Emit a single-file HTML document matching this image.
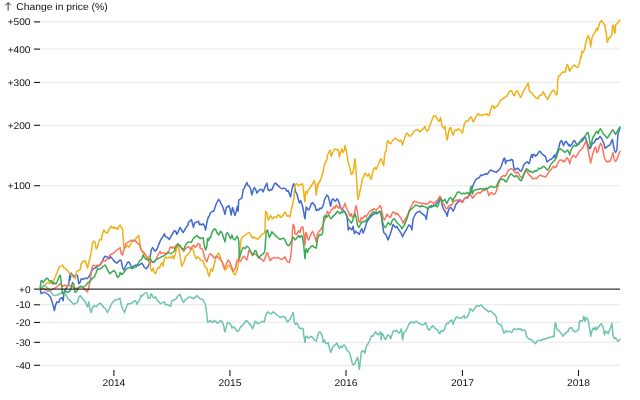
<!DOCTYPE html>
<html><head><meta charset="utf-8"><style>
html,body{margin:0;padding:0;background:#fff;}
svg{display:block;font-family:"Liberation Sans",sans-serif;font-size:10px;}
</style></head><body>
<svg width="640" height="400" viewBox="0 0 640 400">
<g stroke="#000" stroke-opacity="0.1"><line x1="40" x2="620" y1="365.27" y2="365.27"/><line x1="40" x2="620" y1="342.29" y2="342.29"/><line x1="40" x2="620" y1="322.38" y2="322.38"/><line x1="40" x2="620" y1="304.81" y2="304.81"/><line x1="40" x2="620" y1="185.74" y2="185.74"/><line x1="40" x2="620" y1="125.27" y2="125.27"/><line x1="40" x2="620" y1="82.38" y2="82.38"/><line x1="40" x2="620" y1="49.1" y2="49.1"/><line x1="40" x2="620" y1="21.91" y2="21.91"/></g>
<g stroke="#000"><line x1="34" x2="40" y1="365.27" y2="365.27"/><line x1="34" x2="40" y1="342.29" y2="342.29"/><line x1="34" x2="40" y1="322.38" y2="322.38"/><line x1="34" x2="40" y1="304.81" y2="304.81"/><line x1="34" x2="40" y1="289.1" y2="289.1"/><line x1="34" x2="40" y1="185.74" y2="185.74"/><line x1="34" x2="40" y1="125.27" y2="125.27"/><line x1="34" x2="40" y1="82.38" y2="82.38"/><line x1="34" x2="40" y1="49.1" y2="49.1"/><line x1="34" x2="40" y1="21.91" y2="21.91"/><line x1="113.89" x2="113.89" y1="370" y2="376"/><line x1="229.95" x2="229.95" y1="370" y2="376"/><line x1="346.02" x2="346.02" y1="370" y2="376"/><line x1="462.4" x2="462.4" y1="370" y2="376"/><line x1="578.46" x2="578.46" y1="370" y2="376"/></g>
<g fill="#111" text-anchor="end" font-size="10" text-rendering="geometricPrecision" style="filter:grayscale(1)"><text transform="translate(30.5,368.67) scale(1,0.97)" textLength="14.66" lengthAdjust="spacingAndGlyphs">-40</text><text transform="translate(30.5,345.69) scale(1,0.97)" textLength="14.66" lengthAdjust="spacingAndGlyphs">-30</text><text transform="translate(30.5,325.78) scale(1,0.97)" textLength="14.66" lengthAdjust="spacingAndGlyphs">-20</text><text transform="translate(30.5,308.21) scale(1,0.97)" textLength="14.66" lengthAdjust="spacingAndGlyphs">-10</text><text transform="translate(30.5,292.50) scale(1,0.97)" textLength="11.44" lengthAdjust="spacingAndGlyphs">+0</text><text transform="translate(30.5,189.14) scale(1,0.97)" textLength="22.88" lengthAdjust="spacingAndGlyphs">+100</text><text transform="translate(30.5,128.67) scale(1,0.97)" textLength="22.88" lengthAdjust="spacingAndGlyphs">+200</text><text transform="translate(30.5,85.78) scale(1,0.97)" textLength="22.88" lengthAdjust="spacingAndGlyphs">+300</text><text transform="translate(30.5,52.50) scale(1,0.97)" textLength="22.88" lengthAdjust="spacingAndGlyphs">+400</text><text transform="translate(30.5,25.31) scale(1,0.97)" textLength="22.88" lengthAdjust="spacingAndGlyphs">+500</text></g>
<g fill="#111" text-anchor="middle" font-size="10" text-rendering="geometricPrecision" style="filter:grayscale(1)"><text transform="translate(113.89,386.1) scale(1,0.97)" textLength="22.9" lengthAdjust="spacingAndGlyphs">2014</text><text transform="translate(229.95,386.1) scale(1,0.97)" textLength="22.9" lengthAdjust="spacingAndGlyphs">2015</text><text transform="translate(346.02,386.1) scale(1,0.97)" textLength="22.9" lengthAdjust="spacingAndGlyphs">2016</text><text transform="translate(462.4,386.1) scale(1,0.97)" textLength="22.9" lengthAdjust="spacingAndGlyphs">2017</text><text transform="translate(578.46,386.1) scale(1,0.97)" textLength="22.9" lengthAdjust="spacingAndGlyphs">2018</text></g>
<path d="M8.1,10.6V2.6M5.4,5.3L8.1,2.5L10.8,5.3" fill="none" stroke="#333" stroke-width="1"/><text x="16.3" y="10.3" fill="#111" text-rendering="geometricPrecision" style="filter:grayscale(1)" textLength="91.3" lengthAdjust="spacingAndGlyphs">Change in price (%)</text>
<g fill="none" stroke-width="1.5" stroke-linejoin="round" stroke-linecap="round"><path stroke="#4269d0" d="M40,289.1L41.25,293.75L43.12,292.5L45,292.5L46.88,293.75L48.75,295L50.62,297.5L52.5,303.12L53.75,307.5L54.38,310.62L55.62,305L56.88,301.88L58.75,302.5L60,298.75L61.88,297.5L63.12,300.62L63.75,295L65,290L66.88,287.5L68.75,283.75L70,273.75L70,273.75L70,280L71.25,273.12L72.5,275L74.38,276.25L76.25,275L77.5,275.62L78.75,283.75L80,282.5L81.25,278.75L83.12,279.38L85,278.12L86.88,278.75L88.12,277.5L90,275L91.25,271.88L93.12,268.75L95,268.12L96.88,266.88L98.75,265.62L100.62,264.38L102.5,261.25L103.75,258.12L105,256.25L106.88,256.88L108.75,258.75L110.62,256.88L111.88,258.12L113.75,260.62L115,261.88L116.88,263.12L118.75,261.25L120,260L120,260L121.25,260.62L122.5,267.5L123.75,270L125.62,266.25L127.5,262.5L128.75,261.88L130,263.75L131.25,266.25L132.5,267.5L134.38,265.62L136.25,265L138.12,265.62L140,264.38L141.88,263.12L143.12,265L144.38,267.5L146.25,268.75L148.12,266.25L149.38,263.75L150,257.5L151.25,250L152.5,247.5L153.75,249.38L155,251.25L156.88,249.38L158.12,246.25L159.38,243.12L160.62,240L162.5,237.5L164.38,233.75L165.62,236.88L167.5,237.5L169.38,239.38L170.62,236.88L172.5,233.75L174.38,230.62L175.62,231.25L176.88,234.38L178.12,231.88L180,227.5L181.25,229.38L183.12,232.5L185,229.38L186.88,226.25L188.12,225L188.12,222.81L190,220.94L191.56,219.69L192.5,223.75L193.44,227.19L194.69,222.81L196.25,222.19L197.5,221.88L198.44,220.94L199.38,224.69L200,223.75L200.31,224.06L201.88,225L203.12,223.75L204.38,225.62L205.62,230L206.88,222.5L208.12,217.5L209.38,215.62L210.62,212.5L212.5,211.25L213.75,211.25L215,207.5L216.25,203.75L217.5,201.25L218.75,199.38L220,201.25L221.25,204.38L222.5,206.25L223.75,210L225,214.38L226.25,207.5L227.5,206.88L228.75,205.62L230,208.75L231.25,215L232.5,207.5L233.75,211.25L235,215.62L236.25,211.25L237.5,206.25L238.12,211.25L238.75,200L240.62,198.75L241.88,198.12L243.12,190L244.38,188.12L245.62,185L246.88,182.5L248.12,185.62L249.38,186.25L250.62,188.75L251.88,195L253.12,190.62L254.38,187.5L255.62,189.38L256.88,193.12L258.12,191.25L259.38,190L260.62,189.38L261.88,189.38L263.12,191.88L264.38,188.75L265.62,185.62L266.88,183.12L268.12,190L269.38,190.62L270.62,189.38L271.88,190L273.12,186.88L274.38,183.75L275.62,183.12L276.88,184.38L278.12,185.62L279.38,186.88L280,187.5L281.88,188.75L283.75,188.12L285.62,188.75L286.88,191.25L288.12,190.62L289.38,193.75L290.62,196.88L291.88,189.38L293.12,185L293.75,183.75L294.75,187.5L295.62,191.88L296.88,193.75L298.12,198.75L299.38,203.12L300.62,200.62L301.88,203.75L303.12,208.75L304.38,216.25L305,218.75L305.62,212.5L306.25,206.88L307.5,208.75L308.75,210L310,207.5L311.25,203.75L312.5,202.5L313.75,204.38L315,205.62L316.25,210.62L317.5,209.38L318.75,210L320,208.12L321.25,208.75L322.5,206.88L323.75,203.75L324.38,200L325.62,197.5L326.88,195L328.12,196.25L329.38,200.62L330.62,206.25L331.88,200L333.12,198.75L334.38,200.62L335.62,201.25L336.88,198.75L338.12,200L339.38,203.75L340.62,207.5L341.88,210L343.12,210L344.38,211.25L345.62,213.12L346.88,216.25L347.5,221.25L348.12,227.5L348.12,230L349.38,227.5L350.62,228.75L351.88,230L353.12,226.25L354.38,233.75L355.62,231.25L356.88,232.5L358.12,233.12L359.38,234.38L360.62,230.62L361.88,228.75L363.12,233.12L364.38,230L365.62,226.25L366.88,221.88L368.12,220L369.38,218.12L370.62,216.88L371.88,215.62L373.12,214.38L374.38,213.75L375.62,213.12L376.88,213.75L378.12,212.5L379.38,211.25L380.62,212.5L381.25,215L382.5,225L383.75,232.5L385,233.75L386.25,235L387.5,238.75L388.12,240L389.38,236.25L390.62,233.12L391.88,228.75L393.12,224.38L394.38,226.25L395.62,227.5L396.88,226.25L398.12,228.75L399.38,230.62L400.62,232.5L401.88,235L402.5,236.88L403.75,233.75L405,231.88L406.25,230L407.5,227.5L408.75,225L410,225.62L411.25,227.5L411.88,230L413.12,218.75L414.38,216.25L415.62,213.75L416.88,212.5L418.12,211.88L420,211.25L421.25,213.12L422.5,213.75L423.75,215L425,215.62L426.25,219.38L427.5,211.25L428.12,208.75L429.38,206.88L430.62,206.25L431.88,205.62L433.12,206.25L434.38,205.62L435.62,205L436.88,203.12L438.12,201.88L439.38,199.38L440.62,197.5L441.25,201.25L442.5,206.25L443.75,209.38L445,211.25L446.25,213.12L447.25,216.25L448.12,211.25L449.38,208.12L450.62,207.5L451.88,208.75L453.12,211.25L454.38,208.75L455.62,205L456.88,203.12L458.12,201.88L459.38,200.62L460.62,201.25L461.88,201.88L463.12,200.62L464.38,198.75L465.62,197.5L466.88,198.12L468.12,196.88L469.38,195L470.62,193.12L471.88,188.75L473.12,185L474.38,182.5L475.62,180L476.88,178.75L478.12,178.12L479.38,177.5L480.62,175L481.88,175.62L483.12,175L484.38,174.38L485.62,173.75L486.88,174.38L488.12,173.12L489.38,171.25L490.62,170L491.88,170.62L493.12,171.25L495,171.88L496.25,172.5L497.5,171.25L498.75,170L500,168.75L501.25,166.25L502.5,162.5L503.75,158.75L504.75,158.12L505.62,163.75L506.25,161.25L507.5,160.62L508.75,160.62L510,160.62L511.25,159.38L512.5,160L513.12,162.5L513.75,167.5L515,170L516.25,168.75L517.5,168.12L518.75,169.38L520,170.62L521.25,171.25L522.5,168.75L523.75,165L525,163.12L526.25,162.5L527.5,161.88L528.75,163.75L530,161.25L530.62,157.5L531.88,154.38L532.5,157.5L533.12,155L534.38,154.38L535.62,156.25L536.88,155L538.12,153.12L539.38,151.25L540.62,151.88L541.88,153.75L543.12,155L544.38,155.62L545.62,156.88L546.88,161.88L548.12,161.25L549.38,160L550.62,159.38L551.88,158.75L553.12,157.5L554.38,155L555,157.5L556.25,154.38L557.5,151.25L558.75,147.5L560,142.5L561.25,140.62L561.25,140.62L562.5,141.88L562.5,143.12L563.75,145.62L563.75,145L565,142.5L565,141.88L566.25,141.88L566.25,141.25L567.5,143.75L567.5,143.12L568.75,145.62L568.75,145L570,145L570,146.25L571.25,145L572.5,143.12L573.75,140.62L575,141.25L576.25,143.75L577.5,145L578.75,144.38L580,141.88L581.25,140L582.5,138.75L583.75,137.5L585,136.88L586.25,140L587.5,143.75L588.75,146.88L590,148.75L591.25,146.25L592.5,143.12L593.75,143.12L595,141.25L596.25,138.75L597.5,139.38L598.75,138.12L600,136.25L601.25,138.12L602.5,140.62L603.75,143.12L605,148.12L606.25,147.5L607.5,146.25L608.75,145.62L610,145L611.25,141.88L612.5,139.38L613.12,143.75L614.38,150L615.62,152.5L616.88,150L617.5,140L618.12,133.75L619,131.25L620,128.12"/><path stroke="#efb118" d="M40,289.1L43,287L45.5,284.5L47.5,282.5L50,283.5L52.5,282.5L55,277.5L57.5,271.25L59.38,266.88L60.62,266.25L62.5,265L63.75,267.5L65,268.12L66.25,269.38L68.12,271.25L70,273.75L71.88,275.62L73.75,277.5L75.25,278.75L76.5,271.88L78.12,270.62L80,270L81.25,263.75L83.12,261.25L85,260.62L86.25,263.75L87.5,268.12L88.75,262.5L90,257.5L90.62,255.62L91.5,250L92.5,245L92.5,242.5L93.75,241.25L95,241.88L96.25,248.75L97.5,246.88L98.75,241.88L100,239.38L101.25,240L102.5,233.75L103.75,230L105,231.88L106.88,233.12L108.12,231.88L110,227.5L111.25,226.25L112.5,228.12L113.75,226.88L115,228.75L116.25,227.5L117.5,229.38L118.75,226.88L119.75,225.25L120,225L121.25,227.5L122.5,228.75L123.12,236.25L123.75,246.25L125,248.12L126.25,246.88L127.5,245L128.75,247.25L130,245.62L131.25,242.5L132.5,240.62L133.75,240L135.62,238.75L137.5,236.88L138.75,235.62L140,243.75L141.25,250L142.5,251.88L143.75,253.75L145,255L146.25,256.88L147.5,258.75L148.75,256.25L150,262.5L150.62,268.75L151.88,271.25L153.12,268.12L154.38,272.5L155.62,273.75L156.88,270L158.12,267.5L159.38,268.12L160.62,265L161.88,262.5L163.12,266.25L164.38,258.75L165.62,256.88L167.5,258.12L169.38,256.88L171.25,258.12L172.5,255.62L173.75,258.75L175,255L176.88,247.5L178.12,245L179.38,251.88L180.62,260L181.88,266.25L183.12,263.75L184.38,261.25L185.62,256.25L187.5,255L189.38,252.5L190.62,250L192.5,248.12L193.75,251.88L195,256.25L196.25,258.75L197.5,256.88L198.75,258.12L200,258.75L200,260L201.88,260.62L203.12,261.25L204.38,265L205.62,267.5L206.88,268.12L208.12,273.75L209,276.25L210,272.5L211.25,268.75L212.5,271.25L213.75,266.25L215,261.25L216.25,256.88L217.5,254.38L218.75,253.12L220,256.25L221.25,260L223.12,264.38L225,270L226.25,269.38L227.5,266.25L228.75,265L230,266.88L231.25,268.75L232.5,270.62L233.75,273.75L235,275L236.25,272.5L237.5,268.75L238.12,265L241.25,238.75L243.12,236.25L245,235.62L246.88,233.75L248.75,232.5L250,233.12L251.25,236.25L252.5,238.12L253.75,236.88L255.62,238.12L257.5,239.38L259.38,237.5L261.25,235L263.12,233.75L264.38,233.12L265,230L265.62,211.25L266.88,212.5L268.12,220L269.38,218.12L270.62,215.62L272.5,218.75L274.38,216.88L276.25,217.5L278.12,215L280,215.62L280,217.5L281.88,216.88L283.12,215L285,211.88L286.25,214.38L287.5,216.25L288.75,215.62L290,216.88L291.25,210L292.5,205L293.75,198.75L294.38,191.25L295,185L296.25,183.75L297.5,184.38L298.75,185.62L300,185L301.25,184.38L302.5,183.75L303.12,187.5L304.38,198.75L305,201.88L305.62,191.25L306.88,193.75L308.12,190L309.38,188.75L310.62,186.88L311.88,185L313.12,182.5L314.38,180.62L315.25,185L316.25,195L317.5,183.75L317.5,187.5L318.75,182.5L318.75,183.75L320,180.62L320,181.25L321.25,177.5L322.5,173.75L323.75,168.75L324.38,165L325.62,161.88L326.88,160L327.5,155L328.75,152.5L330,150L331.25,156.25L332.5,153.12L333.75,150L335,148.75L336.88,150L338.12,149.38L339.38,156.88L340.62,152.5L341.88,148.75L343.12,152.5L344.38,150L345,145.62L346.25,150L347.5,158.75L348.75,164.38L350,168.75L351.25,174.38L352.5,173.75L353.75,168.75L354.75,158.75L355.62,165L356.5,177.5L357.5,195L358.12,199.38L359.38,193.75L360,190L360,191.25L361.25,185L362.5,178.75L363.75,176.88L365,173.12L366.25,174.38L367.5,176.25L368.75,173.75L370,176.88L371.25,179.38L372.5,172.5L373.75,169.38L375,167.5L376.25,169.38L377.5,166.25L378.75,163.75L380,160L381.25,158.75L382.5,162.5L383.75,165.62L384.38,157.5L385,152.5L386.25,150.62L386.88,142.5L388.12,140.62L389.38,143.12L390.62,143.75L391.88,141.88L393.12,140L394.38,138.75L395.62,138.12L396.88,139.38L398.12,140L399.38,141.25L400.62,140L401.88,142.5L402.5,145L403.75,140.62L405,136.88L406.25,133.75L407.5,133.12L408.75,135.62L410,136.25L411.25,135L412.5,134.38L413.75,131.25L415,130.62L416.25,130L417.5,129.38L418.75,130.62L420,131.88L421.25,130.62L422.5,129.38L423.75,128.12L425,126.25L425.62,128.75L426.88,131.25L428.12,130L429.38,126.88L430.62,123.75L431.88,120L433.12,116.88L434.38,115.62L435.62,116.25L436.88,118.12L438.12,120.62L439.38,121.25L440.62,117.5L441.25,121.25L441.88,126.25L443.12,127.5L444.38,128.75L445,126.25L445.62,131.25L446.25,135L447.25,140L448.12,135L449.38,128.75L450.62,127.5L451.88,131.88L453.12,135L454.38,131.25L455.62,130L456.88,130.62L458.12,128.75L460,130L460.62,130.62L461.25,131.25L462.5,133.12L463.75,126.88L464.38,123.75L465.62,121.88L466.88,120.62L468.12,121.25L469.38,118.75L470.62,116.88L471.88,118.12L473.12,121.88L474.38,120L475.62,117.5L476.88,115L478.12,113.75L479.38,115L480.62,115.62L481.88,115L483.12,115L484.38,114.38L485.62,114.38L486.88,113.75L488.12,115.62L489.38,115L490.62,110L491.88,106.25L493.12,105.62L494.38,108.75L495.62,106.88L496.88,106.25L498.12,105L499.38,102.5L500.62,100L501.88,99.38L503.12,98.75L504.38,97.5L505.62,96.88L506.88,96.25L508.12,93.75L509.38,91.88L510.62,90.62L511.88,91.25L513.12,94.38L514.38,95.62L515.62,92.5L516.88,90.62L518.12,92.5L519.38,95L520.62,97.5L521.88,95L523.12,91.88L524.38,89.38L525.62,87.5L526.88,85.62L528.12,83.12L528.75,86.25L529.38,91.25L530.62,92.5L531.88,92.5L533.12,95L534.38,96.25L535.62,97.5L536.88,98.12L538.12,98.75L539.38,95.62L540.62,95L541.88,95L543.12,91.88L544.38,93.75L545.62,96.25L546.88,98.12L547.75,99.38L548.75,96.88L550,95L551.25,92.5L552.5,90.62L553.75,90L555,92.5L556.25,95L557.25,93.75L557.75,80L558.5,76.25L559.75,75.62L561,73.75L562.25,72.5L563.75,71.88L565,72.5L566.25,67.5L567.25,64.38L568.12,66.25L568.75,69.38L569.75,71.25L570.62,68.75L571.88,67.5L573.12,66.25L574.38,65L575.62,66.25L576.88,67.5L578.12,66.88L579.38,63.75L580,61.25L580.62,56.25L581.25,57.5L581.88,51.25L583.12,52.5L584.38,50L585.62,43.75L586.88,38.75L588.12,35.62L589.38,38.75L590,41.25L590.62,46.88L591.25,42.5L592.25,36.88L593.12,35L594.38,33.12L595.62,30.62L596.88,28.12L597.5,30.62L598.75,26.25L600,22.5L601.25,20.62L602.5,21.88L603.75,23.75L604.75,25L605.62,30L606.5,35L607.25,42.5L608.12,40L609.38,37.5L610.62,36.88L611.88,34.38L612.5,26.25L613.5,25L614.38,32.5L615,33.12L615.62,25L616.88,23.75L618.12,22.5L619.38,20.62L620,20"/><path stroke="#ff725c" d="M40,289.1L42.5,288.12L45,289.38L47.5,291.25L50,290.62L52.5,289.38L55,288.12L57.5,286.25L60,283.75L62.5,286.25L65,285L66.88,286.88L68.75,285L71.25,286.25L73.75,287.5L76.25,288.75L78.75,287.5L81.25,286.25L83.75,288.12L86.25,290.62L87.5,291.88L88.75,287.5L90,281.25L91.25,272.5L92.5,266.25L93.75,265L95.62,266.25L97.5,265L99.38,265.62L101.25,262.5L103.12,260.62L105,261.25L107.5,258.75L110,255L112.5,253.75L115,251.88L116.88,250L118.75,248.75L120,248.12L120,247.5L121.25,253.75L122.5,255L123.75,250L125.62,243.75L127.5,242.5L129.38,241.25L131.25,240L133.12,241.25L135,240.62L136.25,241.88L137.5,243.12L138.75,243.75L140,246.25L141.25,250L143.12,251.88L145,253.75L146.88,257.5L148.12,258.75L150,263.75L151.25,261.25L153.12,262.5L155,261.25L156.88,257.5L158.75,253.75L160,251.25L161.25,253.75L163.12,252.5L165,253.75L166.88,252.5L168.75,251.25L170,247.5L171.25,246.88L172.5,248.12L173.75,246.88L175,248.75L176.25,246.88L178.12,245L180,246.25L181.88,248.75L183.75,251.25L185,249.38L186.88,247.5L188.75,246.88L190.62,249.38L191.88,246.88L193.75,245L195,247.5L196.88,245.62L198.12,243.75L200,244.38L200,248.12L201.88,248.75L203.12,251.25L204.38,256.88L205.62,260L206.88,261.88L208.12,257.5L210,253.75L211.25,254.38L212.5,255.62L213.75,257.5L215,258.12L216.25,256.25L217.5,256.88L219.38,258.12L220.62,260L222.5,262.5L224.38,268.75L225.62,266.25L226.88,262.5L228.12,260L229.38,261.25L230.62,264.38L231.88,267.5L233.12,271.25L234.38,270L235.62,267.5L236.88,261.25L238.12,259.38L239.38,261.25L240.62,261.25L241.88,258.75L243.12,256.88L244.38,256.25L245.62,258.75L246.88,260L248.12,254.38L248.75,250.62L250,251.88L252.5,253.75L255,253.75L257.5,256.25L260,258.12L261.88,259.38L263.75,261.25L265,258.75L266.25,253.75L267.5,252.5L268.75,256.88L270,260.62L271.25,259.38L272.5,258.12L274.38,257.5L276.25,258.12L278.12,257.5L280,258.75L280,258.75L281.88,259.38L283.75,258.12L285,256.88L286.25,260L287.5,261.88L289.38,262.5L290.62,257.5L291.88,245L292.5,230L293.12,224.38L294.38,226.88L295,233.75L296.25,234.38L297.5,233.12L298.75,230.62L300,232.5L301.25,227.5L302.5,226.88L303.12,228.12L303.75,233.75L305,245L305.62,233.75L306.25,232.5L307.5,238.12L308.75,240L310,236.25L311.25,233.75L312.5,231.25L313.75,233.75L315,237.5L316.25,241.88L317.5,233.75L318.75,231.25L320,230.62L321.25,228.75L322.5,226.25L327.5,211.25L328.75,213.75L330,212.5L331.25,210L332.5,209.38L333.75,206.88L335,208.12L336.25,205L337.5,206.88L338.75,208.12L340,206.88L341.25,208.12L342.5,208.75L343.75,206.88L345,203.12L346.25,207.5L347.5,210L348.75,212.5L350,216.25L351.25,213.75L352.5,217.5L353.75,216.25L355,210L356.25,205.62L357.5,212.5L358.75,221.25L360,222.5L361.25,217.5L362.5,218.75L363.75,217.5L365,215.62L366.25,216.88L367.5,215L368.75,212.5L370,211.25L371.25,210L372.5,210.62L373.75,208.75L375,209.38L376.25,210L377.5,208.75L378.75,207.5L380,205.62L381.25,207.5L381.88,212.5L383.12,217.5L384.38,220L385.62,217.5L386.88,214.38L388.12,215.62L389.38,216.88L390.62,217.5L391.88,213.75L393.12,211.88L394.38,212.5L395.62,214.38L396.88,213.12L398.12,214.38L399.38,216.25L400.62,217.5L401.88,220L403.12,223.12L404.38,220.62L405.62,218.75L406.88,216.25L408.12,213.75L409.38,210L410.62,207.5L411.88,205L413.12,202.5L414.38,201.25L416.25,201.88L418.12,202.5L420,203.12L421.25,203.12L422.5,203.75L423.75,203.12L425,203.75L426.25,204.38L427.5,203.75L428.75,203.12L430,201.25L431.25,201.88L432.5,202.5L433.75,203.75L435,202.5L436.25,201.25L437.5,200L438.75,198.12L440,196.25L441.25,198.75L442.5,203.12L443.75,204.38L445,206.25L446.25,208.75L447.5,208.12L448.75,206.25L450,205L451.25,205.62L452.5,203.75L453.75,201.88L455,200.62L456.25,200L457.5,200.62L458.75,200L460,199.38L461.25,201.88L462.5,202.5L463.75,200L465,198.12L466.25,197.5L467.5,196.88L468.75,195.62L470,195L471.25,195.62L472.5,198.12L473.75,196.88L475,195L476.25,193.75L477.5,193.12L478.75,192.5L480,193.12L481.25,191.88L482.5,190.62L483.75,190.62L485,190L486.25,188.75L487.5,190.62L488.75,195.62L490,193.75L491.25,192.5L492.5,193.75L493.75,194.38L495,193.75L496.25,191.25L497.5,187.5L498.75,183.12L500,180L501.25,176.88L502.5,176.25L503.75,175.62L505,176.25L506.25,175L507.5,171.88L508.75,170L510,169.38L511.25,168.75L512.5,169.38L513.75,170.62L515,172.5L516.25,173.12L517.5,171.88L518.75,173.75L520,176.25L521.25,177.5L522.5,176.88L523.75,173.75L525,171.25L526.25,170L527.5,172.5L528.75,174.38L530,175.62L531.25,176.88L532.5,178.75L533.75,178.75L535,178.12L536.25,178.75L537.5,177.5L538.75,176.25L540,175L541.25,175.62L542.5,176.25L543.75,176.25L545,176.88L546.25,176.25L547.5,174.38L548.75,171.88L550,170.62L551.25,169.38L552.5,167.5L553.75,166.25L555,167.5L556.25,166.88L557.5,163.75L558.75,161.25L560,160L561.25,160L562.5,160.62L563.75,161.88L565,160.62L566.25,158.75L567.5,157.5L568.75,160.62L569.75,163.75L570.62,160L571.88,157.5L573.12,155L574.38,156.25L575.62,157.5L576.88,155.62L578.12,153.75L579.38,151.25L580.62,150L581.88,148.75L583.12,146.88L584.38,144.38L585.62,141.88L586.88,143.75L588.12,150L589.38,156.25L590.62,163.12L591.88,157.5L593.12,152.5L594.38,148.75L595.62,146.88L596.88,152.5L598.12,151.25L599.38,146.25L600.62,143.12L601.88,145.62L603.12,151.25L604.38,157.5L605.62,160L606.88,161.88L608.12,161.25L609.38,161.88L610.62,160L611.88,156.25L613.12,152.5L614.38,160L615.62,161.25L616.88,159.38L618.12,156.25L619.38,152.5L620,151.25"/><path stroke="#6cc5b0" d="M40,289.1L41.88,286.88L43.75,285L46.25,286.88L48.75,289.38L51.25,292.5L53.12,295L55,295.62L57.5,295L60,293.75L62.5,292.5L65,293.75L66.88,296.25L68.12,298.75L70,300.62L71.88,302.5L73.75,304.38L75.62,303.12L77.5,302.5L78.75,297.5L80,295.62L81.88,297.5L83.75,300L85.62,302.5L87.5,306.88L88.75,301.88L90,310L91.25,312.5L92.5,306.88L94.38,305.62L96.25,306.88L98.12,304.38L100.62,303.12L101.88,305L103.75,307.5L105.62,308.75L107.5,312.5L109.38,308.75L111.25,304.38L113.12,301.88L115,300L116.88,300L118.75,298.75L120,298.12L120,298.75L121.25,305L122.5,308.75L124.38,312.5L125.62,309.38L126.88,305.62L128.12,303.75L130,303.75L131.88,303.12L133.75,301.25L135.62,300.62L136.88,304.38L138.12,301.88L140,299.38L140.62,295.62L141.88,296.25L143.12,295L144.38,293.75L146.25,292.5L147.5,294.38L148.12,298.12L150,298.12L151.25,293.75L152.5,296.25L153.75,298.12L155.62,296.88L156.88,300L158.75,301.88L160.62,303.75L162.5,302.5L164.38,301.88L165.62,305L167.5,304.38L169.38,305.62L170.62,306.25L171.88,300.62L173.75,300L175.62,299.38L176.88,297.5L178.12,295.62L180,294.38L181.25,297.5L182.5,300.62L183.75,302.5L185,300L187.5,298.12L189.38,296.88L191.25,297.5L193.75,298.75L195.62,296.88L196.88,295.62L198.75,297.5L200,298.75L200,298.75L201.88,299.38L203.12,300L204.38,302.5L205.62,305L206.88,315L207.5,321.88L208.75,321.88L210,320.62L211.25,321.25L212.5,322.5L214.38,320.62L215.62,321.25L216.88,323.12L218.75,322.5L220.62,320.62L222.5,322.5L223.75,325.62L224.38,330L225,331.88L226.25,326.88L227.5,322.5L229.38,323.12L230.62,324.38L231.88,328.12L233.12,326.88L235,328.12L236.25,330L237.5,331.25L238.75,330.62L240,328.12L241.25,326.25L242.5,325.62L243.75,323.75L245,321.88L246.25,320.62L247.5,321.25L248.75,323.12L250,324.38L251.25,325.62L252.5,328.75L253.75,326.25L255,321.25L256.25,321.88L257.5,323.75L258.75,323.12L260.62,322.5L262.5,321.25L264.38,321.88L265.62,315.62L267.5,311.88L269.38,313.12L271.25,313.75L273.12,311.88L275,313.12L276.88,315L278.75,316.25L280,317.5L281.25,317.5L282.5,316.25L283.75,316.88L285,316.88L286.25,320L287.5,321.88L288.75,320.62L290,319.38L291.25,316.25L292.5,314.38L293.12,312.5L293.75,316.25L294.38,322.5L295.62,324.38L296.88,323.12L298.12,325L299.38,328.12L300.62,328.75L301.88,328.12L303.12,328.75L303.75,335L305,342.5L305.62,336.88L306.88,336.25L308.12,338.12L309.38,337.5L310.62,336.25L311.88,336.88L313.12,338.12L314.38,340L316.25,341.25L317.5,336.25L318.75,332.5L320,331.88L321.25,333.75L322.5,336.88L323.12,342.5L324.38,340L325.62,343.12L326.88,343.75L328.12,342.5L329.38,347.5L330.62,352.5L331.88,349.38L333.12,346.25L334.38,345.62L335.62,344.38L336.88,343.12L338.12,345.62L339.38,348.75L340.62,346.25L341.88,347.5L343.12,345.62L344.38,345L345.62,346.88L346.88,350L348.12,351.25L349.38,352.5L350.62,356.25L352.5,364.38L353.75,365L355,363.12L356.25,360L357.5,357.5L358.12,360L358.75,365.62L359.38,369.38L360,363.75L361.25,352.5L362.5,350.62L363.75,351.25L365,353.12L365.62,348.75L366.88,345.62L368.12,343.75L369.38,341.25L370.62,337.5L371.88,335.62L373.12,336.25L374.38,333.75L375.62,331.88L376.88,333.75L378.12,335L379.38,333.12L380.62,331.88L381.25,340L381.88,333.75L383.12,334.38L384.38,338.12L385.62,339.38L386.88,336.25L388.12,335L389.38,335.62L390.62,338.75L391.88,335L393.12,331.25L394.38,330.62L395.62,331.25L396.88,330L398.12,332.5L399.38,333.12L400.62,330.62L401.25,328.75L401.88,332.5L402.5,340L403.12,337.5L403.75,332.5L405,331.88L406.25,330L407.5,327.5L408.75,324.38L410,323.12L411.25,321.88L412.5,322.5L413.75,323.12L415,321.88L416.25,321.25L417.5,322.5L418.75,323.12L420,323.75L421.25,324.38L422.5,325L423.75,324.38L425,323.12L425.62,322.5L426.88,326.25L428.12,329.38L429.38,330L430.62,328.12L431.88,326.88L432.5,325.62L433.75,326.88L435,328.12L436.25,329.38L437.5,330L438.75,332.5L439.75,333.75L440.62,331.88L441.88,330.62L443.12,331.25L444.38,330L445.62,325L446.88,323.12L448.12,323.75L449.38,321.88L450.62,320.62L451.88,320L453.12,324.38L454.38,320.62L455.62,318.12L456.88,316.88L458.12,317.5L459.38,318.12L460.62,318.12L461.88,318.12L463.12,316.25L464.38,315.62L465,318.12L466.25,317.5L467.5,316.88L468.75,314.38L470,308.75L471.25,309.38L472.5,311.25L473.75,310L475,308.12L476.25,306.25L477.5,305.62L478.75,306.25L480,305.62L481.25,305L482.5,306.25L483.75,308.12L485,308.75L486.25,310L487.5,310.62L488.75,311.88L490,311.25L491.25,311.25L492.5,312.5L493.75,313.75L495,315L496.25,316.88L496.88,321.25L497.5,323.12L498.75,323.75L500,324.38L501.25,325L502.5,328.75L503.75,333.12L505,332.5L505.62,330.62L506.88,331.88L508.75,331.25L510.62,331.88L511.88,332.5L513.12,330L514.38,328.75L515.62,329.38L516.88,329.38L518.12,328.75L519.38,329.38L520.62,328.75L521.88,330.62L523.12,330L524.38,330L525.62,331.25L526.25,335.62L527.5,337.5L528.75,338.75L530,339.38L531.25,339.38L532.5,341.25L533.75,341.88L535,343.12L535.62,343.75L536.88,341.25L538.12,340.62L539.38,340.62L540.62,340L541.88,340.62L543.12,338.75L544.38,339.38L545.62,338.75L546.88,338.12L548.12,338.12L549.38,337.5L550.62,336.88L551.88,336.88L553.12,336.25L554,336.88L554.62,327.5L555.25,322.5L556,324.38L556.88,329.38L558.12,330L559.38,331.25L560.62,332.5L561.88,334.38L563.12,336.25L564.38,334.38L565.62,333.12L566.88,331.88L568.12,331.25L569.38,328.12L570.62,328.12L571.88,327.5L572.5,330L573.75,330.62L575,331.88L576.25,331.25L577.5,330.62L578.75,329.38L579.38,321.88L580,321.25L580.62,320.62L581.88,321.25L583.12,320L583.75,316.25L584.38,318.75L585,321.25L585.62,319.38L586.25,317.5L587.5,318.75L588.75,322.5L590,331.25L590.62,336.25L591.88,331.25L593.12,328.12L594.38,329.38L595.62,326.88L596.25,330L597.5,328.12L598.75,326.88L600,325L601.25,323.75L602.5,325.62L603.75,330L604.38,335L605.62,331.25L606.88,331.88L608.12,333.75L609.38,330.62L610.62,328.12L611.88,323.12L612.5,328.75L613.12,336.25L614.38,338.75L615.62,337.5L616.88,340L618.12,341.25L619.38,340L620,339.38"/><path stroke="#3ca951" d="M40,289.1L41,281L42,280.5L43,282.5L44,281.5L45,280L46,278.75L47,278.25L48,278.75L49,280.75L50,281.5L51,280.5L52,282L53,284L54,282.5L55,283.5L56,284L57,282L58,279.5L59,277L60,275L60.5,276L61,280L61.5,285L62,288.5L62.5,293.75L65,291.25L68.12,292.5L70.62,290L72.5,282.5L73.75,283.75L75,292.5L76.88,291.25L78.75,287.5L80.62,286.25L82.5,287.5L84.38,286.25L86.25,285L88.12,282.5L90,281.25L91.25,279.38L92.5,278.12L94.38,276.88L96.25,272.5L97.5,268.75L99.38,269.38L101.25,268.12L103.12,266.25L105,265L106.88,268.12L108.12,271.25L110,273.75L111.88,271.88L113.75,270.62L115.62,272.5L116.88,276.25L118.12,277.5L120,274.38L120,272.5L121.88,274.38L123.75,272.5L125.62,270L127.5,268.12L130,267.5L132.5,268.75L134.38,267.5L136.25,266.88L138.12,263.75L139.38,261.25L140.62,260L141.88,258.75L143.12,255L144.38,257.5L146.25,259.38L148.12,260L150,258.75L151.88,261.25L153.75,262.5L155.62,260L157.5,258.75L159.38,258.12L161.25,256.88L163.12,256.25L165,255L166.88,253.75L168.75,252.5L170.62,253.75L172.5,252.5L174.38,251.25L176.25,245L178.12,243.75L180,245.62L181.88,248.75L183.75,249.38L185.62,245L187.5,242.5L189.38,241.88L191.25,242.5L193.12,238.75L195,236.88L196.88,235.62L198.75,237.5L200,237.5L200,238.75L201.88,238.12L203.12,237.5L204.38,246.25L205.62,250L206.88,246.25L207.5,238.75L208.75,240.62L209.38,237.5L210.62,237.5L211.25,235L212.5,231.25L214.38,228.75L215.62,229.38L216.88,232.5L218.75,235L220.62,231.25L221.88,232.5L223.12,236.25L225,241.88L226.25,233.75L227.5,232.5L229.38,236.25L230.62,238.75L231.88,235L233.12,238.75L235,240L236.88,236.25L238.12,238.12L238.75,241.25L239.38,258.75L240,256.25L241.25,251.25L243.12,247.5L245,248.75L246.88,246.25L248.75,247.5L250,250L251.25,252.5L252.5,255.62L253.75,253.75L255,250.62L256.25,251.25L257.5,255L258.75,258.12L260.62,255.62L262.5,254.38L264.38,252.5L265,248.75L265.62,240L266.25,231.25L267.5,230L269.38,237.5L270.62,235L271.88,231.88L273.75,233.75L275.62,235.62L277.5,237.5L280,239.38L280,239.38L281.88,238.75L283.75,238.12L285,240L286.25,243.12L287.5,245L288.75,245.62L290,244.38L291.25,241.88L292.5,238.12L293.75,237.5L295,240L296.25,238.75L297.5,236.88L298.75,235.62L300,237.5L301.25,235.62L302.5,236.88L303.75,245L304.38,252.5L305,258.75L305.62,251.25L306.25,248.75L307.5,252.5L308.75,248.75L310,248.12L311.25,246.25L312.5,245.62L313.75,246.88L315,247.5L316.25,248.12L317.5,239.38L318.75,235.62L320,234.38L321.25,235L322.5,233.75L323.75,217.5L325,215.62L326.25,217.5L327.5,216.25L328.75,215L330,217.5L331.25,218.75L332.5,216.88L333.75,215.62L335,214.38L336.25,213.12L337.5,211.25L338.75,212.5L340,213.75L341.25,211.88L342.5,212.5L343.75,211.25L345,212.5L346.25,215L347.5,217.5L348.75,220L350,221.25L351.25,223.12L352.5,221.25L353.75,217.5L355,213.75L356.25,217.5L357.5,225L358.75,227.5L361.25,223.12L362.5,221.88L363.75,221.25L365,221.88L366.25,220L367.5,218.75L368.75,217.5L370,215.62L371.25,213.75L372.5,212.5L373.75,211.88L375,212.5L376.25,211.88L377.5,213.12L378.75,212.5L380,211.25L381.25,213.75L381.88,218.75L383.12,223.75L384.38,226.88L385.62,227.5L386.88,225L388.12,222.5L389.38,223.75L390.62,225L391.88,221.25L393.12,219.38L394.38,218.75L395.62,220.62L396.88,222.5L398.12,223.75L399.38,225L400.62,226.25L401.88,228.75L403.12,226.88L404.38,225L405.62,221.88L406.88,218.75L408.12,215L409.38,211.25L410.62,209.38L411.88,208.75L413.12,207.5L414.38,206.25L415.62,205L417.5,205.62L420,206.88L421.25,205.62L422.5,206.25L423.75,206.25L425,206.88L426.25,207.5L427.5,208.75L428.75,206.88L430,206.25L431.25,207.5L432.5,206.25L433.75,205L435,205.62L436.25,206.25L437.5,206.88L438.75,203.75L440,198.75L441.25,199.38L442.5,201.25L443.75,200.62L445,199.38L446.25,202.5L446.88,203.75L448.12,200.62L449.38,198.12L450.62,197.5L451.88,198.75L452.5,201.25L453.75,198.75L455,196.88L456.25,194.38L457.5,192.5L458.75,191.88L460,192.5L461.25,193.75L462.5,193.75L463.75,193.12L465,193.75L466.25,193.12L467.5,192.5L468.75,194.38L470,192.5L470.62,187.5L471.25,186.25L471.88,191.25L472.5,193.75L473.75,190.62L475,190L476.25,189.38L477.5,189.38L478.75,189.38L480,188.75L481.25,188.75L482.5,189.38L483.75,188.75L485,189.38L486.25,188.12L487.5,188.75L488.75,187.5L490,186.88L491.25,186.25L492.5,186.88L493.75,187.5L495,186.88L496.25,186.88L497.5,183.75L498.75,181.25L500,179.38L501.25,178.75L502.5,179.38L503.75,179.38L505,181.25L506.25,181.88L507.5,179.38L508.75,176.88L510,175L511.25,173.75L512.5,175L513.75,176.25L515,176.88L516.25,175.62L517.5,176.25L518.75,178.12L520,180L521.25,180.62L522.5,178.12L523.75,175L525,171.88L526.25,168.75L527.5,169.38L528.75,170.62L530,171.88L531.25,171.25L532.5,172.5L533.75,171.88L535,170.62L536.25,171.25L537.5,170L538.75,168.12L540,168.75L541.25,168.12L542.5,166.88L543.75,166.25L545,167.5L546.25,168.75L547.5,170L548.75,168.75L550,166.25L551.25,163.75L552.5,162.5L553.75,161.25L555,160L556.25,158.12L557.5,153.75L558.75,150L559.38,149.38L560,148.75L561.25,149.38L562.5,150.62L563.75,151.25L565,152.5L566.25,151.25L567.5,150L568.75,151.88L569.75,155L570.62,151.25L571.88,148.12L573.12,146.25L574.38,145L575.62,146.25L576.88,145.62L578.12,143.75L579.38,142.5L580.62,141.88L581.88,141.25L583.12,140L584.38,137.5L585.62,135L586.88,133.12L588.12,132.5L589.38,138.75L590.62,147.5L591.88,141.25L593.12,136.88L594.38,135.62L595.62,132.5L596.88,131.25L598.12,133.75L599.38,130L600.62,128.75L601.88,131.25L603.12,133.75L604.38,135L605.62,136.25L606.88,138.12L608.12,136.88L609.38,135L610.62,133.12L611.88,130.62L613.12,130L614.38,132.5L615.62,134.38L616.88,131.88L618.12,130L619.38,127.5L620,126.88"/></g>
<line x1="40" x2="620" y1="289.1" y2="289.1" stroke="#000"/>
</svg>
</body></html>
